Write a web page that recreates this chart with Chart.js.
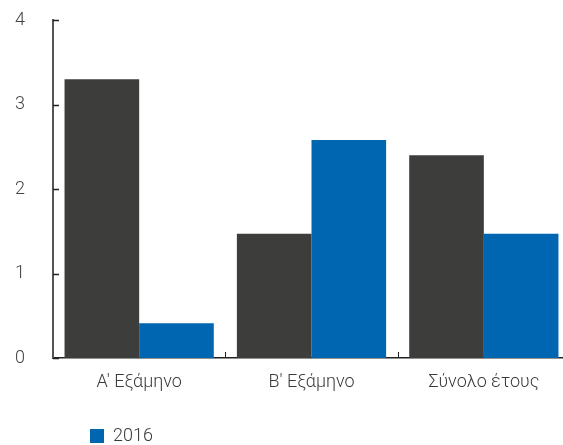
<!DOCTYPE html>
<html>
<head>
<meta charset="utf-8">
<script src="https://cdn.jsdelivr.net/npm/chart.js@4"></script>
<style>
html,body{margin:0;padding:0;background:#fff;overflow:hidden;width:563px;height:445px;}
#wrap{width:570px;height:455px;position:relative;}
</style>
</head>
<body>
<div id="wrap"><canvas id="c"></canvas></div>
<script>
const categories = ["Α' Εξάμηνο", "Β' Εξάμηνο", "Σύνολο έτους"];
const series2015 = [3.3, 1.47, 2.4];
const series2016 = [0.41, 2.58, 1.47];
const yTicks = [0, 1, 2, 3, 4];

const FONT = "Roboto, 'Open Sans', sans-serif";

const innerTicks = {
  id: 'innerTicks',
  afterLayout(chart) {
    if (chart.legend) { chart.legend.left = 80; }
  },
  afterDraw(chart) {
    const {ctx, scales: {x, y}} = chart;
    ctx.save();
    ctx.strokeStyle = '#222';
    ctx.lineWidth = 1.5;
    ctx.beginPath();
    y.ticks.forEach((t, i) => {
      const py = Math.round(y.getPixelForTick(i)) + 0.5;
      ctx.moveTo(y.right, py);
      ctx.lineTo(y.right + 6, py);
    });
    ctx.stroke();
    ctx.lineWidth = 1;
    ctx.beginPath();
    for (let i = 1; i < categories.length; i++) {
      const px = Math.round((x.getPixelForValue(i - 1) + x.getPixelForValue(i)) / 2) + 0.5;
      ctx.moveTo(px, x.top - 6);
      ctx.lineTo(px, x.top);
    }
    ctx.stroke();
    ctx.restore();
  }
};

new Chart(document.getElementById('c'), {
  type: 'bar',
  data: {
    labels: categories,
    datasets: [
      { label: '2015', data: series2015, backgroundColor: '#3d3d3c', categoryPercentage: 0.866, barPercentage: 1 },
      { label: '2016', data: series2016, backgroundColor: '#0066b1', categoryPercentage: 0.866, barPercentage: 1 }
    ]
  },
  options: {
    responsive: true,
    maintainAspectRatio: false,
    animation: false,
    layout: { padding: { top: 20, right: 0, left: 0, bottom: 0 } },
    plugins: {
      tooltip: { enabled: false },
      legend: {
        position: 'bottom',
        align: 'start',
        labels: {
          boxWidth: 14,
          boxHeight: 14,
          padding: 10,
          color: '#3a3a3a',
          font: { family: FONT, size: 18, weight: '300' },
          filter: (item) => item.text === '2016'
        }
      }
    },
    scales: {
      x: {
        grid: { display: false, drawTicks: false },
        border: { display: true, color: '#222', width: 1.5 },
        ticks: { color: '#3a3a3a', padding: 14, font: { family: FONT, size: 18, weight: '300' } },
        afterFit(s) { s.height = 59; }
      },
      y: {
        min: 0, max: 4,
        afterBuildTicks(s) { s.ticks = yTicks.map(v => ({ value: v })); },
        grid: { display: false, drawTicks: false },
        border: { display: true, color: '#555', width: 2 },
        ticks: { color: '#444', padding: 28, font: { family: FONT, size: 18, weight: '300' } },
        afterFit(s) { s.width = 53; s.paddingTop = 10; s.paddingBottom = 10; }
      }
    }
  },
  plugins: [innerTicks]
});
</script>
</body>
</html>
